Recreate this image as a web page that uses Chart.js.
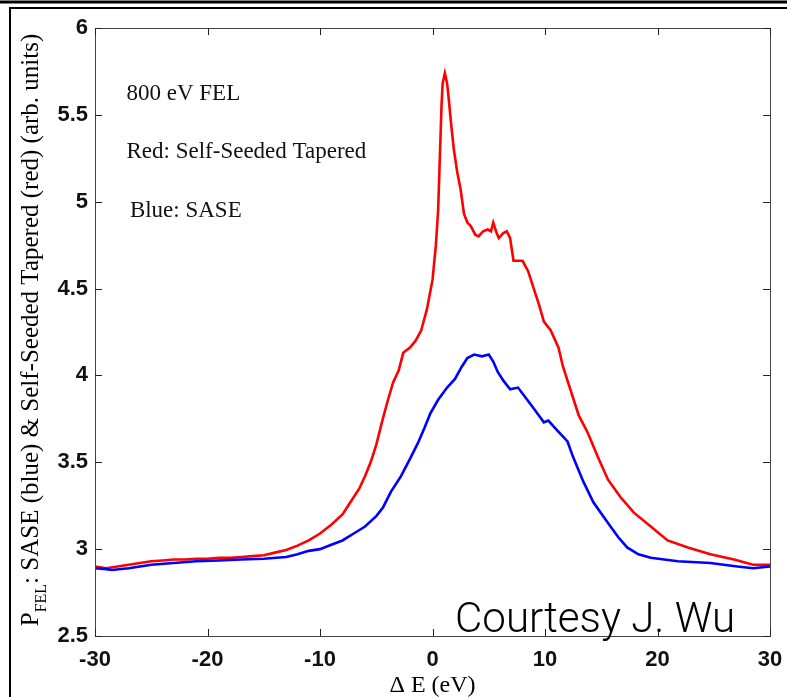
<!DOCTYPE html>
<html>
<head>
<meta charset="utf-8">
<script src="https://cdn.jsdelivr.net/npm/chart.js@4/dist/chart.umd.min.js"></script>
<style>
  html, body { margin: 0; padding: 0; background: #fff; }
  #wrap { width: 787px; height: 697px; position: relative; }
</style>
</head>
<body>
<div id="wrap"><canvas id="chart" width="787" height="697"></canvas></div>
<script>
// Self-seeded tapered spectrum (red)
const redE = [-30, -29, -28, -27, -26, -25, -24, -23, -22, -21, -20, -19, -18, -17, -16, -15, -14, -13, -12, -11, -10, -9, -8, -7.3, -6.5, -6, -5.5, -5, -4.5, -4, -3.5, -3, -2.6, -2, -1.5, -1, -0.5, 0, 0.3, 0.5, 0.6, 0.7, 0.8, 0.9, 1.1, 1.3, 1.4, 1.7, 1.9, 2.2, 2.5, 2.8, 3.1, 3.4, 3.8, 4.1, 4.5, 4.9, 5.2, 5.4, 5.7, 5.9, 6.3, 6.6, 6.9, 7.2, 7.6, 8, 8.5, 9, 9.5, 9.9, 10.5, 11.2, 11.6, 12, 12.5, 13, 13.8, 14.7, 15.6, 16.7, 17.9, 19.4, 20.9, 22.7, 24.7, 26.8, 28.5, 30];
const redP = [2.90, 2.89, 2.90, 2.91, 2.92, 2.93, 2.935, 2.94, 2.94, 2.945, 2.945, 2.95, 2.95, 2.955, 2.96, 2.965, 2.98, 2.995, 3.02, 3.05, 3.09, 3.14, 3.20, 3.27, 3.35, 3.42, 3.50, 3.60, 3.73, 3.85, 3.96, 4.03, 4.13, 4.16, 4.20, 4.26, 4.38, 4.55, 4.75, 4.95, 5.15, 5.35, 5.55, 5.68, 5.74, 5.68, 5.62, 5.42, 5.30, 5.17, 5.07, 4.93, 4.88, 4.86, 4.81, 4.80, 4.83, 4.84, 4.83, 4.88, 4.82, 4.79, 4.82, 4.83, 4.79, 4.66, 4.66, 4.66, 4.60, 4.50, 4.40, 4.31, 4.26, 4.16, 4.05, 3.97, 3.87, 3.77, 3.67, 3.53, 3.40, 3.30, 3.21, 3.13, 3.05, 3.01, 2.97, 2.94, 2.91, 2.91];

// SASE spectrum (blue)
const blueE = [-30, -29, -28.5, -27, -26, -25, -23, -21, -19, -17, -15, -13, -12, -11, -10, -9, -8, -7, -6, -5, -4.4, -3.7, -2.8, -2, -1.3, -0.7, -0.2, 0.5, 1.3, 2, 2.6, 3.1, 3.7, 4.4, 5, 5.4, 5.8, 6.3, 6.9, 7.6, 8.3, 9, 9.9, 10.3, 11, 12, 12.5, 13.4, 14.3, 15.6, 16.5, 17.3, 18.3, 19.4, 21.8, 24.7, 27.1, 28.5, 30];
const blueP = [2.89, 2.885, 2.88, 2.89, 2.90, 2.91, 2.92, 2.93, 2.935, 2.94, 2.945, 2.955, 2.97, 2.99, 3.00, 3.025, 3.05, 3.09, 3.13, 3.19, 3.24, 3.33, 3.42, 3.52, 3.61, 3.70, 3.78, 3.86, 3.93, 3.98, 4.05, 4.10, 4.12, 4.11, 4.12, 4.08, 4.02, 3.97, 3.92, 3.93, 3.87, 3.81, 3.73, 3.74, 3.69, 3.62, 3.53, 3.39, 3.27, 3.15, 3.07, 3.01, 2.97, 2.95, 2.93, 2.92, 2.90, 2.89, 2.90];

const xTicks = [-30, -20, -10, 0, 10, 20, 30];
const yTicks = [2.5, 3, 3.5, 4, 4.5, 5, 5.5, 6];

const notes = ['800 eV FEL', 'Red: Self-Seeded Tapered', 'Blue: SASE'];

function toPoints(xs, ys) {
    return xs.map((x, i) => ({ x: x, y: ys[i] }));
}

const serif = '"Liberation Serif", "DejaVu Serif", serif';
const tickFont = '"Liberation Sans", Arial, sans-serif';

// Box, inward ticks, notes and frame
const decorPlugin = {
    id: 'decor',
    afterDraw(chart) {
        const ctx = chart.ctx;
        const a = chart.chartArea;
        const xs = chart.scales.x;
        const ys = chart.scales.y;
        ctx.save();

        // axes box
        ctx.strokeStyle = '#444';
        ctx.lineWidth = 1;
        ctx.strokeRect(a.left + 0.5, a.top + 0.5, a.right - a.left, a.bottom - a.top);

        // inward ticks
        ctx.strokeStyle = '#222';
        ctx.beginPath();
        xTicks.forEach(v => {
            const px = Math.round(xs.getPixelForValue(v)) + 0.5;
            ctx.moveTo(px, a.bottom); ctx.lineTo(px, a.bottom - 7);
            ctx.moveTo(px, a.top); ctx.lineTo(px, a.top + 7);
        });
        yTicks.forEach(v => {
            const py = Math.round(ys.getPixelForValue(v)) + 0.5;
            ctx.moveTo(a.left, py); ctx.lineTo(a.left + 7, py);
            ctx.moveTo(a.right, py); ctx.lineTo(a.right - 7, py);
        });
        ctx.stroke();

        // notes
        ctx.fillStyle = '#111';
        ctx.font = '23px ' + serif;
        ctx.textBaseline = 'middle';
        ctx.textAlign = 'left';
        ctx.fillText(notes[0], xs.getPixelForValue(-27.2), ys.getPixelForValue(5.62));
        ctx.fillText(notes[1], xs.getPixelForValue(-27.2), ys.getPixelForValue(5.285));
        ctx.fillText(notes[2], xs.getPixelForValue(-26.9), ys.getPixelForValue(4.945));

        // courtesy
        ctx.textBaseline = 'alphabetic';
        ctx.fillStyle = '#000';
        const court = 'Courtesy J. Wu';
        ctx.font = '300 40px Roboto, "Liberation Sans", sans-serif';
        const cw = ctx.measureText(court).width;
        const cs = 40 * 280 / cw;
        ctx.font = '300 ' + cs.toFixed(1) + 'px Roboto, "Liberation Sans", sans-serif';
        ctx.fillText(court, 455, 632);

        // x title
        ctx.textBaseline = 'middle';
        ctx.font = '24px ' + serif;
        ctx.textAlign = 'center';
        ctx.fillText('\u0394 E (eV)', xs.getPixelForValue(0), 686);

        // y title with subscript
        ctx.translate(31, 330);
        ctx.rotate(-Math.PI / 2);
        ctx.textAlign = 'left';
        const big = '25px ' + serif;
        const small = '16px ' + serif;
        const rest = ': SASE (blue) & Self-Seeded Tapered (red) (arb. units)';
        ctx.font = big;
        const wP = ctx.measureText('P').width;
        const wRest = ctx.measureText(rest).width;
        ctx.font = small;
        const wSub = ctx.measureText('FEL').width;
        let x0 = -(wP + wSub + wRest) / 2;
        ctx.font = big;
        ctx.fillText('P', x0, 0);
        ctx.font = small;
        ctx.fillText('FEL', x0 + wP, 11);
        ctx.font = big;
        ctx.fillText(rest, x0 + wP + wSub, 0);
        ctx.restore();

        // figure frame
        ctx.save();
        ctx.strokeStyle = '#000';
        ctx.lineWidth = 3;
        ctx.beginPath();
        ctx.moveTo(0, 2); ctx.lineTo(787, 2);
        ctx.stroke();
        ctx.lineWidth = 2;
        ctx.beginPath();
        ctx.moveTo(787, 8); ctx.lineTo(10, 8); ctx.lineTo(10, 697);
        ctx.stroke();
        ctx.restore();
    }
};

new Chart(document.getElementById('chart'), {
    type: 'scatter',
    data: {
        datasets: [
            {
                label: 'SASE',
                data: toPoints(blueE, blueP),
                showLine: true,
                borderColor: '#0000ff',
                borderWidth: 2.6,
                pointRadius: 0,
                tension: 0
            },
            {
                label: 'Self-Seeded Tapered',
                data: toPoints(redE, redP),
                showLine: true,
                borderColor: '#ff0000',
                borderWidth: 2.6,
                pointRadius: 0,
                tension: 0
            }
        ]
    },
    options: {
        responsive: false,
        animation: false,
        layout: { padding: { left: 0, top: 28, right: 17, bottom: 0 } },
        plugins: {
            legend: { display: false },
            tooltip: { enabled: false }
        },
        scales: {
            x: {
                type: 'linear',
                min: -30,
                max: 30,
                afterFit: scale => {
                    scale.height = 61;
                    scale.paddingLeft = 0;
                    scale.paddingRight = 0;
                },
                afterBuildTicks: scale => { scale.ticks = xTicks.map(v => ({ value: v })); },
                grid: { display: false, drawTicks: false },
                border: { display: false },
                ticks: {
                    color: '#111',
                    padding: 11,
                    maxRotation: 0,
                    callback: v => String(v),
                    font: { family: tickFont, size: 22, weight: 'bold' }
                }
            },
            y: {
                type: 'linear',
                min: 2.5,
                max: 6,
                afterFit: scale => {
                    scale.width = 95;
                    scale.paddingTop = 0;
                    scale.paddingBottom = 0;
                },
                afterBuildTicks: scale => { scale.ticks = yTicks.map(v => ({ value: v })); },
                grid: { display: false, drawTicks: false },
                border: { display: false },
                ticks: {
                    color: '#111',
                    padding: 7,
                    callback: v => String(v),
                    font: { family: tickFont, size: 22, weight: 'bold' }
                }
            }
        }
    },
    plugins: [decorPlugin]
});
</script>
</body>
</html>
